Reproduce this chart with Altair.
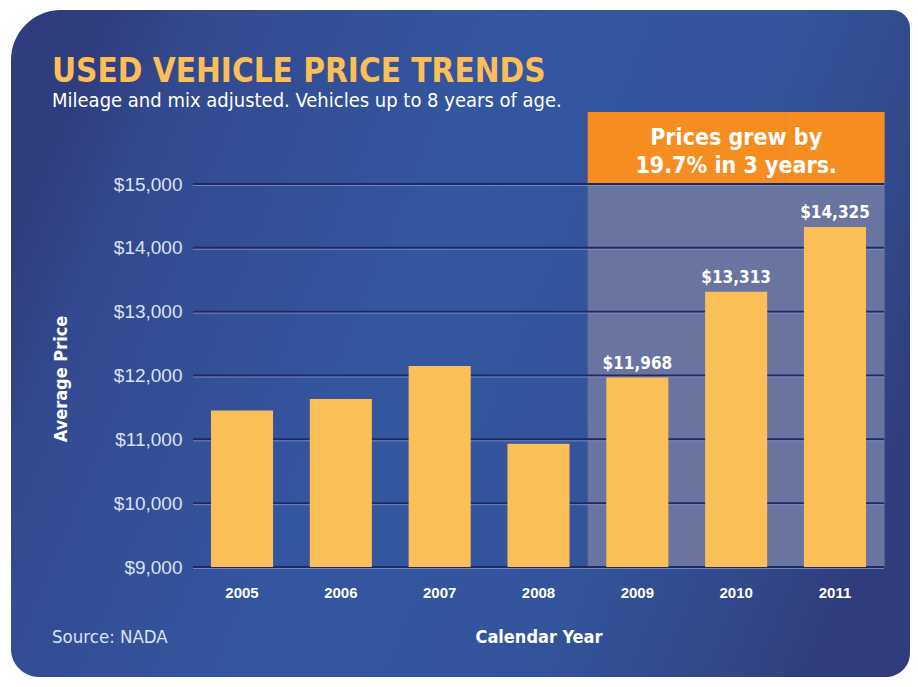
import altair as alt
import pandas as pd

# ---------------- data ----------------
years = ["2005", "2006", "2007", "2008", "2009", "2010", "2011"]
prices = [11450, 11630, 12150, 10930, 11968, 13313, 14325]
highlight_years = ["2009", "2010", "2011"]
y_ticks = [9000, 10000, 11000, 12000, 13000, 14000, 15000]

title_text = "USED VEHICLE PRICE TRENDS"
subtitle_text = "Mileage and mix adjusted. Vehicles up to 8 years of age."
callout_lines = ["Prices grew by", "19.7% in 3 years."]
x_title = "Calendar Year"
y_title = "Average Price"
source_text = "Source: NADA"

# ---------------- style ----------------
W, H = 691, 383
NARROW = "DejaVu Sans Condensed, Liberation Sans Narrow, sans-serif"
REG = "Liberation Sans, sans-serif"
BAR = "#FCBF57"
HL = "#6A74A0"
ORANGE = "#F68D21"

df = pd.DataFrame({"year": years, "price": prices})
df["label"] = df["year"].isin(highlight_years)
hl_df = pd.DataFrame({"year": highlight_years})
tick_df = pd.DataFrame({"v": y_ticks})
one = pd.DataFrame({"k": [0]})

xscale = alt.Scale(paddingInner=0.372, paddingOuter=0.182)
yscale = alt.Scale(domain=[y_ticks[0], y_ticks[-1]], zero=False, nice=False, clamp=True)

x_axis = alt.Axis(labelAngle=0, labelFont=REG, labelFontSize=15, labelFontWeight="bold",
                  labelColor="white", labelPadding=18, ticks=False, domain=False, grid=False,
                  zindex=1, title=None)
y_axis = alt.Axis(values=y_ticks, format="$,.0f", labelFont=REG, labelFontSize=19,
                  labelColor="#DCE2F0", labelPadding=11, ticks=False, domain=False, grid=False,
                  zindex=1, title=None)

bg = alt.Chart(one).mark_rect(
    fill=alt.LinearGradient(
        gradient="linear", x1=0, y1=0.35, x2=1, y2=0.65,
        stops=[
            alt.GradientStop(color="#2F3D7E", offset=0),
            alt.GradientStop(color="#33498F", offset=0.1),
            alt.GradientStop(color="#3456A0", offset=0.42),
            alt.GradientStop(color="#33549C", offset=0.7),
            alt.GradientStop(color="#324788", offset=0.9),
            alt.GradientStop(color="#303C7C", offset=1),
        ],
    ),
    cornerRadiusTopLeft=50, cornerRadiusTopRight=18,
    cornerRadiusBottomLeft=28, cornerRadiusBottomRight=24,
).encode(x=alt.value(-182), x2=alt.value(W + 26), y=alt.value(-174), y2=alt.value(H + 110))

hl = alt.Chart(hl_df).mark_rect(color=HL, width=alt.RelativeBandSize(1.6)).encode(
    x=alt.X("year:N", scale=xscale, axis=x_axis), y=alt.value(0), y2=alt.value(H)
)
box = alt.Chart(hl_df).mark_rect(color=ORANGE, width=alt.RelativeBandSize(1.6)).encode(
    x=alt.X("year:N"), y=alt.value(-72), y2=alt.value(-1)
)

grid_dark = alt.Chart(tick_df).mark_rule(color="#1C2A62", strokeWidth=2).encode(
    y=alt.Y("v:Q", scale=yscale, axis=y_axis)
)
grid_light = alt.Chart(tick_df).mark_rule(color="#8793C2", strokeWidth=1, yOffset=1.5, opacity=0.8).encode(
    y=alt.Y("v:Q")
)

bars = alt.Chart(df).mark_bar(color=BAR).encode(
    x=alt.X("year:N"),
    y=alt.Y("price:Q"),
    y2=alt.datum(y_ticks[0]),
)

vlabels = alt.Chart(df).transform_filter("datum.label").mark_text(
    font=NARROW, fontSize=17, fontWeight="bold", color="white", baseline="alphabetic", dy=-9
).encode(x=alt.X("year:N"), y=alt.Y("price:Q"), text=alt.Text("price:Q", format="$,.0f"))

mid = pd.DataFrame({"year": [highlight_years[1]]})
call1 = alt.Chart(mid).mark_text(font=NARROW, fontSize=23, fontWeight="bold", color="white",
                                 align="center", baseline="alphabetic", text=callout_lines[0]).encode(
    x=alt.X("year:N"), y=alt.value(-39))
call2 = alt.Chart(mid).mark_text(font=NARROW, fontSize=23, fontWeight="bold", color="white",
                                 align="center", baseline="alphabetic", text=callout_lines[1]).encode(
    x=alt.X("year:N"), y=alt.value(-11))

title = alt.Chart(one).mark_text(font=NARROW, fontSize=33, fontWeight="bold", color="#FDBF55",
                                 align="left", baseline="alphabetic", text=title_text).encode(
    x=alt.value(-141), y=alt.value(-102))
subtitle = alt.Chart(one).mark_text(font=NARROW, fontSize=20, color="white",
                                    align="left", baseline="alphabetic", text=subtitle_text).encode(
    x=alt.value(-141), y=alt.value(-77))
xt = alt.Chart(one).mark_text(font=NARROW, fontSize=18, fontWeight="bold", color="white",
                              align="center", baseline="alphabetic", text=x_title).encode(
    x=alt.value(346), y=alt.value(H + 76))
yt = alt.Chart(one).mark_text(font=NARROW, fontSize=18, fontWeight="bold", color="white",
                              align="center", baseline="middle", angle=270, text=y_title).encode(
    x=alt.value(-131), y=alt.value(195))
src = alt.Chart(one).mark_text(font=NARROW, fontSize=18.5, color="#DCE2F0",
                               align="left", baseline="alphabetic", text=source_text).encode(
    x=alt.value(-141), y=alt.value(H + 76))

chart = alt.layer(
    bg, hl, box, grid_dark, grid_light, bars, vlabels, call1, call2, title, subtitle, xt, yt, src
).properties(
    width=W, height=H,
    autosize=alt.AutoSizeParams(type="none"),
    padding={"left": 185, "top": 176, "right": 26, "bottom": 112},
    background="white",
).configure_view(stroke=None)

chart.save("out.html", embed_options={"renderer": "svg", "actions": False})
